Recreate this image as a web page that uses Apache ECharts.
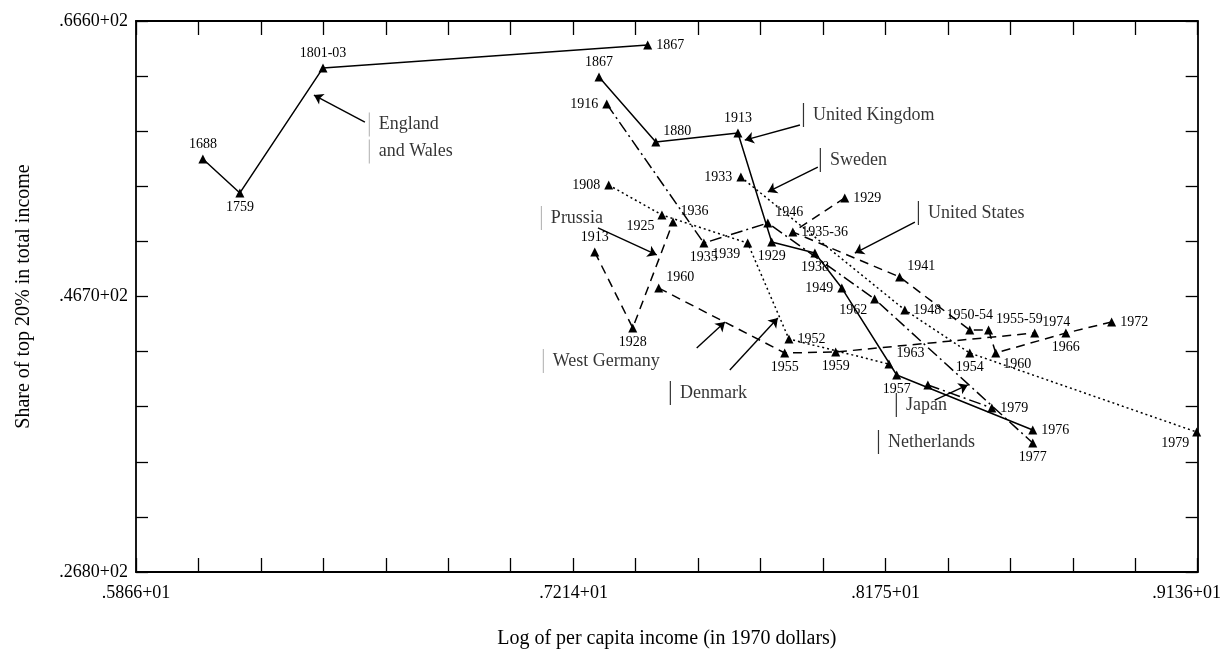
<!DOCTYPE html>
<html><head><meta charset="utf-8">
<script src="https://cdn.jsdelivr.net/npm/echarts@6/dist/echarts.min.js"></script>
<style>html,body{margin:0;padding:0;background:#fff}#c{width:1224px;height:655px}</style>
</head><body><div id="c"></div>
<script>
// ---- axes ----
const xMin = 5.866, xMax = 9.136, yMin = 26.8, yMax = 66.6;
const xLabelValues = [5.866, 7.214, 8.175, 9.136];
const yLabelValues = [26.8, 46.7, 66.6];
const xTickCount = 17, yTickCount = 10;

// ---- series data (x = log per capita income, y = share of top 20%) ----
const ewYears = ['1688', '1759', '1801-03', '1867'];
const ewX = [6.072, 6.186, 6.442, 7.442];
const ewY = [56.63, 54.18, 63.21, 64.87];

const ukYears = ['1867', '1880', '1913', '1929', '1938', '1949', '1957', '1976'];
const ukX = [7.292, 7.467, 7.720, 7.824, 7.957, 8.040, 8.209, 8.628];
const ukY = [62.56, 57.86, 58.51, 50.64, 49.84, 47.31, 41.03, 37.06];

const nlYears = ['1916', '1935', '1946', '1962', '1977'];
const nlX = [7.316, 7.615, 7.812, 8.141, 8.628];
const nlY = [60.60, 50.56, 52.01, 46.52, 36.12];

const seYears = ['1933', '1948', '1954', '1979'];
const seX = [7.729, 8.234, 8.434, 9.133];
const seY = [55.33, 45.73, 42.62, 36.91];

const usYears = ['1929', '1935-36', '1941', '1950-54', '1955-59', '1960', '1966', '1972'];
const usX = [8.049, 7.889, 8.218, 8.434, 8.492, 8.514, 8.730, 8.871];
const usY = [53.82, 51.36, 48.11, 44.28, 44.28, 42.62, 44.06, 44.86];

const prYears = ['1913', '1928', '1936'];
const prX = [7.279, 7.396, 7.520];
const prY = [49.91, 44.43, 52.08];

const wgYears = ['1960', '1955', '1959', '1974'];
const wgX = [7.476, 7.864, 8.021, 8.634];
const wgY = [47.31, 42.62, 42.69, 44.06];

const dkYears = ['1908', '1925', '1939', '1952', '1963'];
const dkX = [7.322, 7.486, 7.750, 7.877, 8.185];
const dkY = [54.75, 52.59, 50.56, 43.63, 41.82];

const jpYears = ['', '1979'];
const jpX = [8.305, 8.502];
const jpY = [40.31, 38.65];

// ---- country annotations and arrows ----
const annotNames = ['England\nand Wales', 'United Kingdom', 'Sweden', 'United States', 'Prussia', 'West Germany', 'Denmark', 'Japan', 'Netherlands'];
const annotX = [6.583, 7.920, 7.972, 8.274, 7.113, 7.119, 7.510, 8.206, 8.151];
const annotY = [58.15, 59.81, 56.56, 52.73, 52.37, 42.04, 39.73, 38.86, 36.19];
const annotFaint = [true, false, false, false, true, true, false, false, false];
const arrowStartX = [6.571, 7.911, 7.966, 8.265, 7.289, 7.593, 7.695, 8.326];
const arrowStartY = [59.30, 59.09, 56.05, 52.08, 51.65, 42.98, 41.39, 39.22];
const arrowEndX = [6.414, 7.741, 7.812, 8.080, 7.470, 7.680, 7.843, 8.428];
const arrowEndY = [61.25, 58.00, 54.25, 49.84, 49.70, 44.86, 45.15, 40.31];

// ---- label placement (style, not data) ----
const ewPos = ['t', 'b', 't', 'r'];
const ukPos = ['t', 'tr', 't', 'b', 'b', 'l', 'b', 'r'];
const nlPos = ['l', 'b', 'tr', 'bl', 'b'];
const sePos = ['l', 'r', 'b', 'bl'];
const usPos = ['r', 'r', 'tr', 't', 'tr', 'br', 'b', 'r'];
const prPos = ['t', 'b', 'tr'];
const wgPos = ['tr', 'b', 'b', 'tr'];
const dkPos = ['l', 'bl', 'bl', 'r', 'tr'];
const jpPos = ['b', 'r'];

const chart = echarts.init(document.getElementById('c'));
const serif = 'Liberation Serif';
const xTicks = [], yTicks = [];
for (let i = 0; i <= xTickCount; i++) xTicks.push(xMin + (xMax - xMin) * i / xTickCount);
for (let i = 0; i <= yTickCount; i++) yTicks.push(yMin + (yMax - yMin) * i / yTickCount);
function fmt(v, exp) {
  const s = exp === 1 ? v.toFixed(3).replace('.', '') : v.toFixed(2).replace('.', '');
  return '.' + s + '+0' + exp;
}
function labelFor(code) {
  const m = {
    t: {position: 'top', distance: 3}, b: {position: 'bottom', distance: 3},
    l: {position: 'left', distance: 4}, r: {position: 'right', distance: 4},
    tr: {position: 'right', distance: 3, offset: [0, -11]}, tl: {position: 'left', distance: 3, offset: [0, -11]},
    br: {position: 'right', distance: 3, offset: [0, 11]}, bl: {position: 'left', distance: 3, offset: [0, 11]}
  };
  return m[code];
}
function lineSeries(xs, ys, names, pos, dash) {
  return {
    type: 'line', xAxisIndex: 0, yAxisIndex: 0,
    data: xs.map((x, i) => ({value: [x, ys[i]], name: names[i], label: labelFor(pos[i])})),
    symbol: 'triangle', symbolSize: 9, showAllSymbol: true,
    itemStyle: {color: '#000'}, lineStyle: {color: '#000', width: 1.5, type: dash},
    label: {show: true, formatter: p => p.name, fontFamily: serif, fontSize: 14, color: '#000'},
    emphasis: {disabled: true}, animation: false, z: 3
  };
}
const axisLine = {show: true, lineStyle: {color: '#000', width: 1.8}};
chart.setOption({
  animation: false,
  grid: {left: 136, right: 26, top: 21, bottom: 83},
  xAxis: [
    {type: 'value', min: xMin, max: xMax, position: 'bottom', axisLine, splitLine: {show: false},
      axisTick: {show: true, inside: true, length: 14, customValues: xTicks, lineStyle: {color: '#000', width: 1.3}},
      axisLabel: {show: true, customValues: xLabelValues, fontFamily: serif, fontSize: 18, color: '#000', margin: 12,
        formatter: v => (Math.abs(v - xMax) < 1e-6 ? '{last|' + fmt(v, 1) + '}' : fmt(v, 1)),
        rich: {last: {fontFamily: serif, fontSize: 18, color: '#000', padding: [0, 22, 0, 0]}}},
      name: 'Log of per capita income (in 1970 dollars)', nameLocation: 'middle', nameGap: 57,
      nameTextStyle: {fontFamily: serif, fontSize: 20, color: '#000'}},
    {type: 'value', min: xMin, max: xMax, position: 'top', axisLine, splitLine: {show: false},
      axisTick: {show: true, inside: true, length: 14, customValues: xTicks, lineStyle: {color: '#000', width: 1.3}},
      axisLabel: {show: false}}
  ],
  yAxis: [
    {type: 'value', min: yMin, max: yMax, position: 'left', axisLine, splitLine: {show: false},
      axisTick: {show: true, inside: true, length: 12, customValues: yTicks, lineStyle: {color: '#000', width: 1.3}},
      axisLabel: {show: true, customValues: yLabelValues, formatter: v => fmt(v, 2), fontFamily: serif, fontSize: 18, color: '#000', margin: 8},
      name: 'Share of top 20% in total income', nameLocation: 'middle', nameGap: 102, nameRotate: 90,
      nameTextStyle: {fontFamily: serif, fontSize: 20, color: '#000'}},
    {type: 'value', min: yMin, max: yMax, position: 'right', axisLine, splitLine: {show: false},
      axisTick: {show: true, inside: true, length: 12, customValues: yTicks, lineStyle: {color: '#000', width: 1.3}},
      axisLabel: {show: false}}
  ],
  series: [
    lineSeries(ewX, ewY, ewYears, ewPos, 'solid'),
    lineSeries(ukX, ukY, ukYears, ukPos, 'solid'),
    lineSeries(nlX, nlY, nlYears, nlPos, [12, 4, 2, 4]),
    lineSeries(seX, seY, seYears, sePos, [2, 3]),
    lineSeries(usX, usY, usYears, usPos, [9, 6]),
    lineSeries(prX, prY, prYears, prPos, [9, 6]),
    lineSeries(wgX, wgY, wgYears, wgPos, [9, 6]),
    lineSeries(dkX, dkY, dkYears, dkPos, [2, 3]),
    lineSeries(jpX, jpY, jpYears, jpPos, [12, 4, 2, 4]),
    {
      type: 'lines', coordinateSystem: 'cartesian2d', xAxisIndex: 0, yAxisIndex: 0,
      data: arrowStartX.map((x, i) => ({coords: [[x, arrowStartY[i]], [arrowEndX[i], arrowEndY[i]]]})),
      symbol: ['none', 'arrow'], symbolSize: 9,
      lineStyle: {color: '#000', width: 1.4, opacity: 1, curveness: 0},
      emphasis: {disabled: true}, animation: false, z: 2
    },
    {
      type: 'scatter', xAxisIndex: 0, yAxisIndex: 0, symbolSize: 0,
      data: annotX.map((x, i) => ({value: [x, annotY[i]], name: annotNames[i], faint: annotFaint[i]})),
      label: {show: true, position: 'right', distance: 0,
        formatter: p => p.name.split('\n').map(s => '{' + (annotFaint[p.dataIndex] ? 'barF' : 'bar') + '|}{t|  ' + s + '}').join('\n'),
        rich: {bar: {width: 1.2, height: 24, backgroundColor: '#000'},
               barF: {width: 1, height: 24, backgroundColor: '#999'},
               t: {fontFamily: serif, fontSize: 18, color: '#000', lineHeight: 27}}},
      emphasis: {disabled: true}, animation: false, z: 4
    }
  ]
});
</script></body></html>
